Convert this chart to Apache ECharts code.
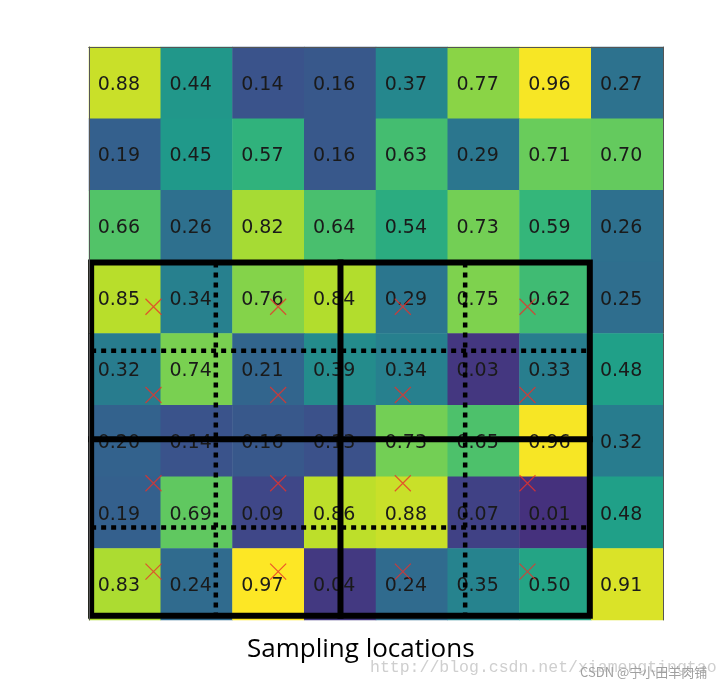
<!DOCTYPE html>
<html>
<head>
<meta charset="utf-8">
<script src="https://cdn.jsdelivr.net/npm/echarts@6/dist/echarts.min.js"></script>
<style>html,body{margin:0;padding:0;background:#fff;}#c{width:720px;height:687px;}</style>
</head>
<body>
<div id="c"></div>
<script>
var cols = ['0','1','2','3','4','5','6','7'];
var rows = ['0','1','2','3','4','5','6','7'];
var row0 = [0.88, 0.44, 0.14, 0.16, 0.37, 0.77, 0.96, 0.27];
var row1 = [0.19, 0.45, 0.57, 0.16, 0.63, 0.29, 0.71, 0.70];
var row2 = [0.66, 0.26, 0.82, 0.64, 0.54, 0.73, 0.59, 0.26];
var row3 = [0.85, 0.34, 0.76, 0.84, 0.29, 0.75, 0.62, 0.25];
var row4 = [0.32, 0.74, 0.21, 0.39, 0.34, 0.03, 0.33, 0.48];
var row5 = [0.20, 0.14, 0.16, 0.13, 0.73, 0.65, 0.96, 0.32];
var row6 = [0.19, 0.69, 0.09, 0.86, 0.88, 0.07, 0.01, 0.48];
var row7 = [0.83, 0.24, 0.97, 0.04, 0.24, 0.35, 0.50, 0.91];
var matrix = [row0, row1, row2, row3, row4, row5, row6, row7];

// RoI box in cell units (x: columns, y: rows from top)
var roiX = [0.03, 6.98];
var roiY = [3.01, 7.94];
var titleText = 'Sampling locations';
var watermarkUrl = 'http://blog.csdn.net/xiamengtingtao';
var watermarkCsdn = 'CSDN @宁小田羊肉铺';

var heatData = [];
matrix.forEach(function (r, i) { r.forEach(function (v, j) { heatData.push([j, i, v]); }); });

var xm = (roiX[0] + roiX[1]) / 2, ym = (roiY[0] + roiY[1]) / 2;
var bx = [roiX[0], xm, roiX[1]], by = [roiY[0], ym, roiY[1]];
var dotX = [(bx[0] + bx[1]) / 2, (bx[1] + bx[2]) / 2];
var dotY = [(by[0] + by[1]) / 2, (by[1] + by[2]) / 2];
var samples = [];
for (var a = 0; a < 2; a++) for (var b = 0; b < 2; b++) {
  var w = bx[a + 1] - bx[a], h = by[b + 1] - by[b];
  [0.25, 0.75].forEach(function (fx) { [0.25, 0.75].forEach(function (fy) {
    samples.push([bx[a] + fx * w, by[b] + fy * h]);
  }); });
}

var viridis = ['#440154','#482878','#3e4989','#31688e','#26828e','#1f9e89','#35b779','#6ece58','#b5de2b','#fde725'];

var chart = echarts.init(document.getElementById('c'));
chart.setOption({
  animation: false,
  backgroundColor: '#fff',
  grid: { left: 89, right: 57, top: 47, bottom: 67 },
  xAxis: [
    { type: 'category', data: cols, gridIndex: 0, position: 'bottom', z: 10,
      axisLine: { show: true, lineStyle: { color: '#555', width: 1 } }, axisTick: { show: false }, axisLabel: { show: false }, splitLine: { show: false } },
    { type: 'value', min: 0, max: 8, gridIndex: 0, position: 'top', z: 10,
      axisLine: { show: true, onZero: false, lineStyle: { color: '#555', width: 1 } }, axisTick: { show: false }, axisLabel: { show: false }, splitLine: { show: false } }
  ],
  yAxis: [
    { type: 'category', data: rows, inverse: true, gridIndex: 0, position: 'left', z: 10,
      axisLine: { show: true, lineStyle: { color: '#555', width: 1 } }, axisTick: { show: false }, axisLabel: { show: false }, splitLine: { show: false } },
    { type: 'value', min: 0, max: 8, inverse: true, gridIndex: 0, position: 'right', z: 10,
      axisLine: { show: true, onZero: false, lineStyle: { color: '#555', width: 1 } }, axisTick: { show: false }, axisLabel: { show: false }, splitLine: { show: false } }
  ],
  visualMap: { show: false, min: -0.15, max: 0.97, seriesIndex: 0, inRange: { color: viridis } },
  series: [
    { type: 'heatmap', data: heatData, xAxisIndex: 0, yAxisIndex: 0, z: 2,
      label: { show: true, fontFamily: 'DejaVu Sans', fontSize: 19, color: '#1a1a1a', offset: [-6, 2],
        formatter: function (p) { return p.value[2].toFixed(2); } },
      itemStyle: { borderWidth: 0 } },
    { type: 'lines', coordinateSystem: 'cartesian2d', xAxisIndex: 1, yAxisIndex: 1, polyline: true, z: 5,
      lineStyle: { color: '#000', width: 6, opacity: 1, join: 'miter', cap: 'square' },
      data: [
        { coords: [[roiX[0], roiY[0]], [roiX[1], roiY[0]], [roiX[1], roiY[1]], [roiX[0], roiY[1]], [roiX[0], roiY[0]]] },
        { coords: [[xm, roiY[0]], [xm, roiY[1]]] },
        { coords: [[roiX[0], ym], [roiX[1], ym]] }
      ] },
    { type: 'lines', coordinateSystem: 'cartesian2d', xAxisIndex: 1, yAxisIndex: 1, polyline: true, z: 4,
      lineStyle: { color: '#000', width: 4.5, opacity: 1, type: [5, 5], cap: 'butt' },
      data: [
        { coords: [[dotX[0], roiY[0]], [dotX[0], roiY[1]]] },
        { coords: [[dotX[1], roiY[0]], [dotX[1], roiY[1]]] },
        { coords: [[roiX[0], dotY[0]], [roiX[1], dotY[0]]] },
        { coords: [[roiX[0], dotY[1]], [roiX[1], dotY[1]]] }
      ] },
    { type: 'scatter', xAxisIndex: 1, yAxisIndex: 1, z: 6, data: samples,
      symbol: 'path://M0,0L10,10M10,0L0,10', symbolSize: 16,
      itemStyle: { color: 'none', borderColor: '#e8322a', borderWidth: 1.2 } }
  ],
  graphic: [
    { type: 'text', left: 370, top: 659, z: 1, style: { text: watermarkUrl, fontFamily: 'Liberation Mono', fontSize: 16.5, fill: '#cfcfcf' } },
    { type: 'text', left: 247, top: 637, z: 2, style: { text: titleText, fontFamily: 'Open Sans', fontSize: 26, fill: '#000' } },
    { type: 'text', left: 580, top: 666, z: 3, style: { text: watermarkCsdn, fontFamily: 'Noto Sans CJK SC', fontSize: 13, fill: '#a0a0a0' } }
  ]
});
</script>
</body>
</html>
